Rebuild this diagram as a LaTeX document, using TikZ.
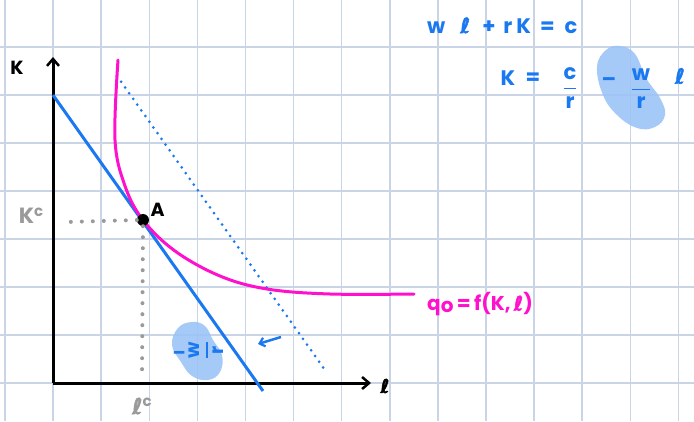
\documentclass[tikz,border=0pt]{standalone}
\usepackage{fontspec}
\setmainfont{Poppins}
\newfontfamily\ellfont[FakeBold=2.5]{DejaVu Sans}
\usepackage{amsmath, amssymb}
\usetikzlibrary{positioning, arrows.meta}
\definecolor{SketchGrid}{HTML}{C9D4E6}
\definecolor{SketchInk}{HTML}{000000}
\definecolor{SketchBlue}{HTML}{1A78F0}
\definecolor{SketchPink}{HTML}{FF10CC}
\definecolor{SketchGray}{HTML}{9A9A9A}
\definecolor{SketchBlob}{HTML}{9CC4F6}
\tikzset{
  gridline/.style  = {SketchGrid, line width=1.5pt},
  axisline/.style  = {SketchInk, line width=3pt, -{Straight Barb[length=7pt, width=12pt, line width=2.5pt]}},
  budgetline/.style= {SketchBlue, line width=3pt},
  shiftline/.style = {SketchBlue, line width=3pt, line cap=round, dash pattern=on 0pt off 7pt},
  isoquant/.style  = {SketchPink, line width=3pt, line cap=round},
  guideline/.style = {SketchGray, line width=4pt, line cap=round, dash pattern=on 0pt off 11pt},
  shiftarr/.style  = {SketchBlue, line width=2.5pt, -{Straight Barb[length=5pt, width=9pt, line width=2.2pt]}},
  blob/.style      = {SketchBlob, fill opacity=0.9},
  eqtext/.style    = {text=SketchBlue, font=\fontsize{21}{24}\selectfont\bfseries, inner sep=0pt},
  axlbl/.style     = {text=SketchInk, font=\fontsize{19}{20}\selectfont\bfseries, inner sep=0pt},
  reflbl/.style    = {text=SketchGray, font=\fontsize{22}{24}\selectfont\bfseries, inner sep=0pt},
  pinklbl/.style   = {text=SketchPink, font=\fontsize{20}{22}\selectfont\bfseries, inner sep=0pt},
  dot/.style       = {circle, fill=SketchInk, minimum size=12pt, inner sep=0pt},
}
\newcommand{\hfrac}[2]{\genfrac{}{}{1.6pt}{0}{\mbox{#1}}{\mbox{#2}}}
\newcommand{\hell}{{\ellfont ℓ}}
\begin{document}
\begin{tikzpicture}[x=1pt, y=-1pt]
  \useasboundingbox (0,0) rectangle (694,421);
  % grid paper
  \foreach \i in {0,...,14}
    \draw[gridline] ({5+48.1*\i},0) -- ({5+48.1*\i},421);
  \foreach \j in {0,...,8}
    \draw[gridline] (0,{-1+48*\j}) -- (694,{-1+48*\j});
  % highlight blobs
  \fill[blob] plot[smooth cycle, tension=0.7] coordinates
    {(597,67) (606,50) (620,46) (635,54) (646,78) (660,98) (665,115) (655,127) (637,128) (617,115) (603,95)};
  \fill[blob] plot[smooth cycle, tension=0.7] coordinates
    {(172,345) (178,328) (192,322) (205,326) (213,340) (222,355) (220,372) (208,380) (192,376) (181,362)};
  % axes
  \coordinate (O) at (53,383);
  \coordinate (Ktop) at (53,57);
  \coordinate (Lend) at (371,383);
  \draw[axisline] (O) -- (Ktop);
  \draw[axisline] (O) -- (Lend);
  \node[axlbl] (klbl) at (17,68) {K};
  \node[axlbl] (llbl) at (385,386) {\hell};
  % budget lines
  \coordinate (b1) at (53,95);
  \coordinate (b2) at (263,391);
  \draw[budgetline] (b1) -- (b2);
  \coordinate (d1) at (117,76);
  \coordinate (d2) at (325,370);
  \draw[shiftline] (d1) -- (d2);
  \coordinate (s1) at (281,337);
  \coordinate (s2) at (258,344);
  \draw[shiftarr] (s1) -- (s2);
  % isoquant
  \draw[isoquant] plot[smooth, tension=0.6] coordinates
    {(118,60) (115,140) (125,186) (143,220) (175,251) (220,276) (267,289) (330,294) (414,294)};
  \node[pinklbl, anchor=west] (qlbl) at (427,304) {q\raisebox{-0.15ex}{o}\,=\,f(K,\,\hell)};
  % tangency point
  \node[dot] (A) at (143,220) {};
  \node[axlbl, above right=-1pt and 3pt of A] (albl) {A};
  \coordinate (kcend) at (67,222);
  \coordinate (lcend) at (142,376);
  \draw[guideline] (A.west) -- (kcend);
  \draw[guideline] (A.south) -- (lcend);
  \node[reflbl] (kc) at (31,216) {K\raisebox{0.6ex}{\fontsize{15}{15}\selectfont c}};
  \node[reflbl] (lc) at (142,406) {\hell\raisebox{0.6ex}{\fontsize{15}{15}\selectfont c}};
  % slope label
  \node[eqtext, font=\fontsize{19}{20}\selectfont\bfseries] (slope) at (198,350)
    {–\,\rotatebox{90}{$\hfrac{w}{r}$}};
  % budget equation
  \node[eqtext, anchor=base west] (eq1) at (427,33)
    {w\hspace{15pt}\hell\hspace{12pt}+\hspace{8pt}r\hspace{4pt}K\hspace{9pt}=\hspace{10pt}c};
  \node[eqtext] (eqK) at (508,78) {K};
  \node[eqtext] (eqeq) at (533,79) {=};
  \node[eqtext] (eqc) at (570,88) {$\hfrac{c}{r}$};
  \node[eqtext] (eqminus) at (609,82) {–};
  \node[eqtext] (eqw) at (641,89) {$\hfrac{w}{r}$};
  \node[eqtext] (eql) at (680,76) {\hell};
\end{tikzpicture}
\end{document}
